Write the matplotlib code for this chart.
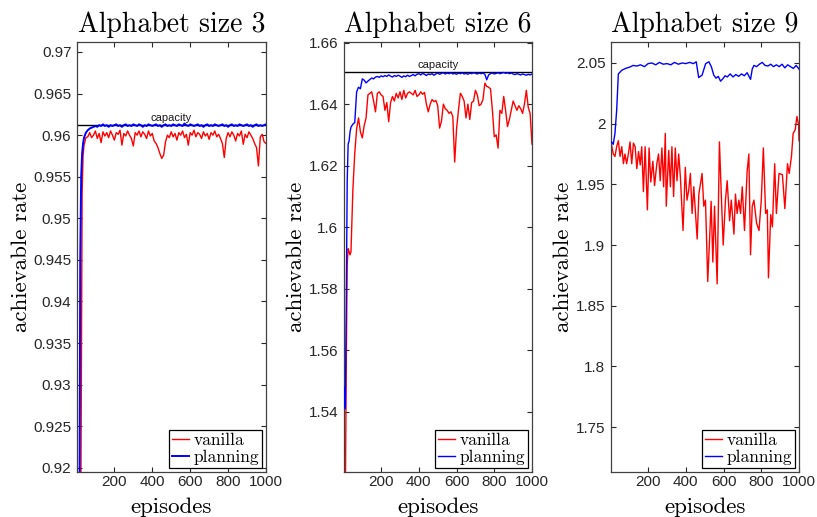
import matplotlib
matplotlib.use("Agg")
import matplotlib.pyplot as plt
from matplotlib.ticker import FuncFormatter

# ---- data ----
# shared episode grid for panels 1 and 2
ep_a = [1, 5, 10, 15, 20, 25, 30, 35] + list(range(40, 1001, 10))

cap_3 = 0.96119
vanilla_3 = [
    0.86, 0.87, 0.88, 0.89, 0.90, 0.925, 0.953, 0.9575,
    0.9588, 0.9597, 0.9598, 0.9603, 0.9597, 0.9600, 0.9605, 0.9596, 0.9602, 0.9591,
    0.9604, 0.9599, 0.9603, 0.9597, 0.9605, 0.9600, 0.9594, 0.9603, 0.9601, 0.9606,
    0.9588, 0.9602, 0.9599, 0.9605, 0.9600, 0.9596, 0.9587, 0.9603, 0.9600, 0.9605,
    0.9598, 0.9604, 0.9601, 0.9596, 0.9605, 0.9599, 0.9602, 0.9593, 0.9590, 0.9585,
    0.9578, 0.9572, 0.9576, 0.9592, 0.9600, 0.9597, 0.9604, 0.9598, 0.9602, 0.9594,
    0.9603, 0.9600, 0.9605, 0.9597, 0.9601, 0.9588, 0.9603, 0.9600, 0.9606, 0.9598,
    0.9603, 0.9601, 0.9596, 0.9604, 0.9599, 0.9602, 0.9595, 0.9603, 0.9600, 0.9605,
    0.9598, 0.9601, 0.9596, 0.9590, 0.9573, 0.9596, 0.9603, 0.9598, 0.9604, 0.9600,
    0.9593, 0.9602, 0.9599, 0.9605, 0.9589, 0.9601, 0.9597, 0.9604, 0.9600, 0.9596,
    0.9590, 0.9585, 0.9563, 0.9598, 0.9601, 0.9592, 0.9590,
]
planning_3 = [
    0.87, 0.88, 0.89, 0.905, 0.945, 0.955, 0.9578, 0.9590,
    0.9597, 0.9603, 0.9606, 0.9608, 0.9609, 0.9610,
    0.9611, 0.9610, 0.9612, 0.9611, 0.9613, 0.9611, 0.9612, 0.9610, 0.9612, 0.9611,
    0.9612, 0.9613, 0.9611, 0.9612, 0.9610, 0.9612, 0.9613, 0.9611, 0.9612, 0.9611,
    0.9613, 0.9612, 0.9611, 0.9613, 0.9612, 0.9610, 0.9612, 0.9611, 0.9613, 0.9612,
    0.9611, 0.9612, 0.9613, 0.9611, 0.9612, 0.9610, 0.9612, 0.9613, 0.9611, 0.9612,
    0.9611, 0.9613, 0.9612, 0.9611, 0.9613, 0.9612, 0.9611, 0.9614, 0.9612, 0.9611,
    0.9613, 0.9612, 0.9611, 0.9612, 0.9613, 0.9611, 0.9612, 0.9610, 0.9612, 0.9613,
    0.9611, 0.9612, 0.9611, 0.9613, 0.9612, 0.9611, 0.9612, 0.9613, 0.9611, 0.9612,
    0.9610, 0.9612, 0.9613, 0.9611, 0.9612, 0.9611, 0.9613, 0.9612, 0.9611, 0.9612,
    0.9613, 0.9611, 0.9612, 0.9610, 0.9612, 0.9613, 0.9611, 0.9612, 0.9611, 0.9612,
    0.9613,
]

cap_6 = 1.6505
vanilla_6 = [
    1.542, 1.515, 1.51, 1.555, 1.588, 1.593, 1.592, 1.591,
    1.592, 1.612, 1.624, 1.632, 1.6355, 1.631, 1.629, 1.633, 1.6355, 1.643,
    1.6435, 1.644, 1.641, 1.6375, 1.6435, 1.644, 1.643, 1.6425, 1.638, 1.6405,
    1.6343, 1.6405, 1.6425, 1.641, 1.6435, 1.642, 1.644, 1.6415, 1.6445, 1.642,
    1.6435, 1.644, 1.6435, 1.643, 1.6445, 1.6425, 1.643, 1.644, 1.6432, 1.6438,
    1.640, 1.6375, 1.640, 1.6415, 1.6408, 1.6412, 1.6395, 1.6322, 1.6345, 1.640,
    1.6385, 1.638, 1.637, 1.6375, 1.636, 1.6212, 1.632, 1.638, 1.6435, 1.6425,
    1.641, 1.6355, 1.640, 1.635, 1.6405, 1.641, 1.6445, 1.643, 1.6395, 1.640,
    1.6415, 1.6468, 1.6458, 1.6455, 1.645, 1.638, 1.6294, 1.630, 1.6257, 1.638,
    1.637, 1.6425, 1.638, 1.6327, 1.635, 1.638, 1.641, 1.6395, 1.638, 1.6395,
    1.6385, 1.637, 1.640, 1.6445, 1.639, 1.637, 1.627,
]
planning_6 = [
    1.542, 1.548, 1.541, 1.575, 1.615, 1.627, 1.628, 1.631,
    1.6325, 1.6335, 1.634, 1.644, 1.6455, 1.645, 1.6482, 1.6478, 1.6469, 1.6475,
    1.648, 1.6485, 1.6482, 1.6488, 1.649, 1.6487, 1.6492, 1.6489, 1.6493, 1.649,
    1.6495, 1.6491, 1.6488, 1.6493, 1.649, 1.6494, 1.6491, 1.6487, 1.6492, 1.6489,
    1.6494, 1.649, 1.6493, 1.6496, 1.6492, 1.6497, 1.6499, 1.6495, 1.65, 1.6497,
    1.6493, 1.6498, 1.6496, 1.6499, 1.6494, 1.6498, 1.6501, 1.6497, 1.65, 1.6502,
    1.6498, 1.6501, 1.6499, 1.6502, 1.6498, 1.65, 1.6497, 1.6501, 1.6499, 1.6502,
    1.6498, 1.65, 1.6497, 1.6501, 1.6499, 1.6502, 1.65, 1.6498, 1.6501, 1.6499,
    1.6501, 1.6497, 1.6479, 1.6495, 1.6499, 1.6501, 1.6498, 1.65, 1.6502, 1.6499,
    1.6501, 1.6503, 1.65, 1.6502, 1.6499, 1.6501, 1.6498, 1.6496, 1.6499, 1.6497,
    1.6495, 1.6498, 1.6496, 1.6494, 1.6497, 1.6495, 1.6498,
]

ep_9_van = [
    3, 15, 24, 33, 42, 51, 60, 69, 77, 86, 95, 104, 113, 122, 131, 140, 149, 158,
    166, 175, 184, 196, 205, 214, 225, 234, 246, 255, 264, 273, 282, 291, 296, 309,
    318, 326, 335, 344, 353, 362, 371, 385, 397, 406, 415, 424, 433, 442, 460, 469,
    486, 495, 504, 516, 527, 534, 543, 552, 566, 578, 589, 598, 610, 619, 632, 641,
    655, 663, 672, 681, 690, 699, 711, 725, 734, 743, 752, 761, 775, 788, 800, 811,
    823, 832, 838, 850, 859, 871, 880, 894, 912, 925, 939, 948, 960, 969, 980, 989,
    998, 1000,
]
vanilla_9 = [
    1.985, 1.975, 1.973, 1.981, 1.986, 1.973, 1.981, 1.967, 1.975, 1.967, 1.975,
    1.985, 1.967, 1.984, 1.981, 1.963, 1.977, 1.966, 1.981, 1.944, 1.981, 1.929,
    1.980, 1.952, 1.969, 1.949, 1.967, 1.975, 1.953, 1.980, 1.948, 1.992, 1.932,
    1.978, 1.948, 1.981, 1.940, 1.980, 1.953, 1.975, 1.956, 1.912, 1.964, 1.937,
    1.945, 1.959, 1.926, 1.948, 1.905, 1.942, 1.959, 1.932, 1.937, 1.870, 1.909,
    1.936, 1.886, 1.932, 1.868, 1.985, 1.937, 1.900, 1.937, 1.953, 1.920, 1.937,
    1.909, 1.942, 1.926, 1.937, 1.926, 1.948, 1.912, 1.961, 1.975, 1.892, 1.932,
    1.937, 1.918, 1.912, 1.937, 1.980, 1.926, 1.929, 1.873, 1.925, 1.915, 1.967,
    1.926, 1.959, 1.958, 1.930, 1.967, 1.959, 1.973, 1.992, 1.995, 2.006, 1.999,
    1.986,
]
ep_9_plan = [
    1, 6, 15, 24, 33, 42, 60, 80, 104, 120, 140, 160, 180, 200, 220, 240, 260, 280,
    300, 320, 340, 360, 380, 400, 420, 440, 455, 468, 486, 505, 522, 535, 548, 560,
    572, 584, 596, 608, 620, 635, 650, 665, 680, 695, 710, 725, 743, 752, 761, 775,
    790, 805, 820, 835, 850, 865, 880, 895, 910, 925, 940, 955, 970, 985, 1000,
]
planning_9 = [
    1.985, 1.985, 1.983, 1.992, 2.011, 2.041, 2.044, 2.0455, 2.0467, 2.048,
    2.0475, 2.0485, 2.047, 2.0495, 2.050, 2.0485, 2.0505, 2.049, 2.0495, 2.0485,
    2.0505, 2.049, 2.050, 2.0495, 2.0505, 2.0495, 2.051, 2.038, 2.040, 2.0495,
    2.051, 2.047, 2.040, 2.0375, 2.039, 2.035, 2.037, 2.0395, 2.0385, 2.041,
    2.0385, 2.0405, 2.039, 2.041, 2.0395, 2.042, 2.0365, 2.045, 2.048, 2.047,
    2.049, 2.0505, 2.048, 2.0475, 2.049, 2.047, 2.0485, 2.047, 2.049, 2.046,
    2.0485, 2.047, 2.0455, 2.048, 2.045,
]

assert len(ep_a) == len(vanilla_3) == len(planning_3)
assert len(ep_a) == len(vanilla_6) == len(planning_6)
assert len(ep_9_van) == len(vanilla_9)
assert len(ep_9_plan) == len(planning_9)

SERIF = "cmr10"
SANS = "Liberation Sans"
AX_COL = "0.25"

plt.rcParams["font.family"] = SANS


def style_axis(ax, ylim, yticks, title):
    ax.set_xlim(3, 1000)
    ax.set_ylim(*ylim)
    ax.set_xticks([200, 400, 600, 800, 1000])
    ax.set_yticks(yticks)
    ax.yaxis.set_major_formatter(FuncFormatter(lambda v, p: f"{v:g}"))
    ax.tick_params(direction="in", length=3.5, width=0.8, top=True, right=True,
                   labelsize=11, colors="0.15", pad=4)
    ax.tick_params(axis="x", pad=2.5)
    for sp in ax.spines.values():
        sp.set_color(AX_COL)
        sp.set_linewidth(0.9)
    ax.set_title(title, fontsize=20, family=SERIF, pad=7)
    ax.set_xlabel("episodes", fontsize=16.5, family=SERIF, labelpad=5.5)
    ax.set_ylabel("achievable rate", fontsize=16.5, family=SERIF, labelpad=2)


def add_legend(ax):
    leg = ax.legend(loc="lower right", prop={"family": SERIF, "size": 12.5},
                    frameon=True, fancybox=False, framealpha=1, edgecolor="black",
                    handlelength=1.0, handletextpad=0.25, borderpad=0.15,
                    labelspacing=0.1, borderaxespad=0.25)
    leg.get_frame().set_linewidth(0.9)


def add_capacity(ax, cap):
    ax.axhline(cap, color="black", lw=1.0, zorder=1)
    ax.annotate("capacity", xy=(500, cap), xytext=(0, 1.5), textcoords="offset points",
                ha="center", va="bottom", fontsize=8, color="0.1")


fig = plt.figure(figsize=(8.17, 5.17), dpi=100)
ax1 = fig.add_axes([77 / 817, 45 / 517, 189 / 817, 430 / 517])
ax2 = fig.add_axes([344 / 817, 45 / 517, 188 / 817, 430 / 517])
ax3 = fig.add_axes([611 / 817, 45 / 517, 188 / 817, 430 / 517])

# Alphabet size 3
add_capacity(ax1, cap_3)
ax1.plot(ep_a, vanilla_3, color="red", lw=1.0, label="vanilla", zorder=2)
ax1.plot(ep_a, planning_3, color="blue", lw=1.4, label="planning", zorder=3)
style_axis(ax1, (0.9195, 0.9712),
           [0.92, 0.925, 0.93, 0.935, 0.94, 0.945, 0.95, 0.955, 0.96, 0.965, 0.97],
           "Alphabet size 3")
add_legend(ax1)

# Alphabet size 6
add_capacity(ax2, cap_6)
ax2.plot(ep_a, vanilla_6, color="red", lw=1.0, label="vanilla", zorder=2)
ax2.plot(ep_a, planning_6, color="blue", lw=1.0, label="planning", zorder=3)
style_axis(ax2, (1.5204, 1.6602), [1.54, 1.56, 1.58, 1.6, 1.62, 1.64, 1.66],
           "Alphabet size 6")
add_legend(ax2)

# Alphabet size 9
ax3.plot(ep_9_van, vanilla_9, color="red", lw=1.0, label="vanilla", zorder=2)
ax3.plot(ep_9_plan, planning_9, color="blue", lw=1.0, label="planning", zorder=3)
style_axis(ax3, (1.713, 2.0673), [1.75, 1.8, 1.85, 1.9, 1.95, 2.0, 2.05],
           "Alphabet size 9")
add_legend(ax3)

fig.savefig("out.png", dpi=100)
plt.close(fig)
